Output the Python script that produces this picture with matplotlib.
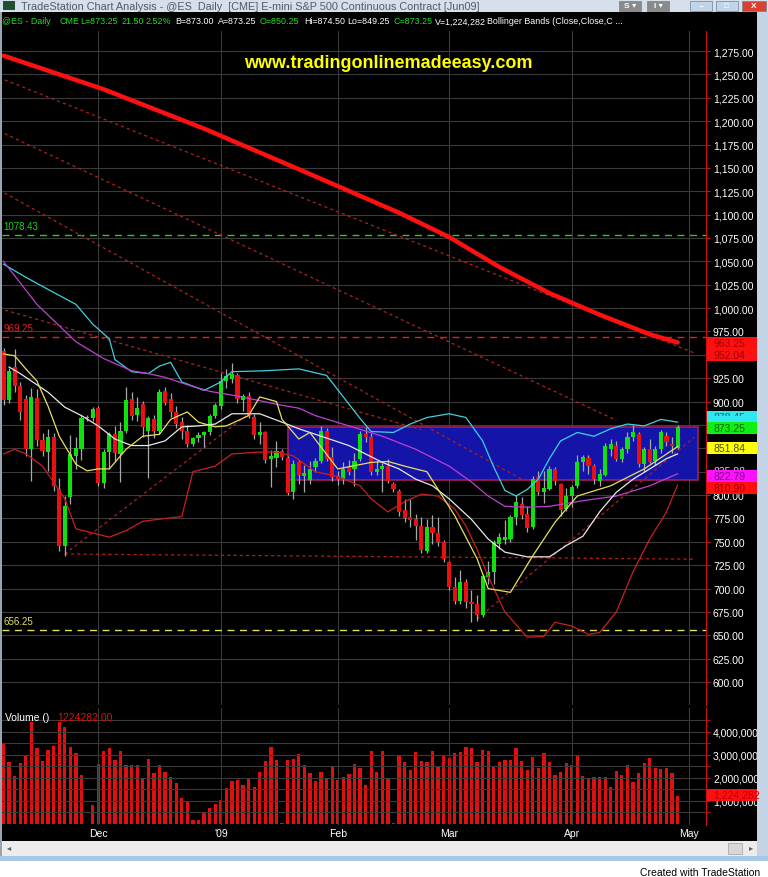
import numpy as np
import pandas as pd
import matplotlib
matplotlib.use("Agg")
import matplotlib.pyplot as plt
from matplotlib.patches import Rectangle

plt.rcParams['font.family'] = ['Liberation Sans', 'DejaVu Sans']

# ES daily sessions, Nov 6 2008 - Apr 29 2009 (holiday sessions Nov 27, Jan 19, Feb 16 kept)
dates = pd.bdate_range("2008-11-06", "2009-04-29")
dates = dates.drop(pd.to_datetime(["2008-12-25", "2009-01-01", "2009-04-10"]))

opens = np.array([954, 902, 937, 917, 903, 849, 904, 859, 846, 862, 807, 746, 798, 842, 849, 882, 883,
                  893, 813, 846, 865, 844, 869, 903, 886, 897, 869, 881, 869, 911, 903, 889, 878, 869, 855,
                  861, 864, 867, 885, 895, 922, 924, 928, 902, 906, 884, 864, 867, 839, 840, 847, 840, 803,
                  835, 820, 816, 830, 836, 869, 841, 820, 817, 830, 828, 839, 865, 862, 825, 828, 831, 812,
                  804, 784, 777, 774, 767, 740, 766, 759, 750, 728, 702, 687, 707, 686, 684, 672, 712, 718,
                  748, 752, 753, 777, 790, 780, 766, 819, 803, 807, 828, 812, 785, 799, 810, 835, 840, 831,
                  815, 822, 849, 853, 839, 849, 862, 865, 833, 849, 836, 849, 863, 855, 850.25])
highs = np.array([957, 936, 956, 921, 907, 915, 914, 866, 871, 866, 818, 799, 864, 862, 886, 886, 894,
                  895, 849, 868, 874, 878, 916, 910, 905, 901, 885, 886, 913, 916, 909, 895, 884, 875, 862,
                  867, 869, 887, 899, 931, 935, 941, 931, 908, 910, 887, 878, 869, 848, 858, 849, 842, 838,
                  838, 832, 837, 840, 874, 872, 851, 826, 835, 838, 845, 869, 873, 866, 836, 834, 839, 814,
                  806, 796, 796, 780, 777, 774, 779, 777, 752, 730, 712, 720, 710, 698, 693, 716, 729, 752,
                  760, 773, 779, 800, 798, 788, 820, 826, 826, 831, 830, 813, 808, 811, 843, 843, 843, 833,
                  828, 856, 860, 858, 851, 867, 875, 867, 851, 860, 852, 870, 868, 862, 874.5])
lows = np.array([896, 898, 910, 880, 842, 815, 853, 842, 826, 804, 740, 735, 790, 828, 838, 879, 879,
                 810, 808, 828, 836, 814, 866, 880, 879, 862, 818, 861, 865, 896, 884, 872, 860, 851, 852,
                 857, 851, 864, 882, 892, 915, 920, 898, 890, 882, 860, 855, 834, 809, 830, 838, 800, 796,
                 812, 803, 812, 825, 834, 836, 815, 811, 812, 822, 810, 836, 857, 822, 821, 803, 813, 803,
                 778, 771, 766, 752, 738, 738, 748, 746, 728, 698, 683, 684, 679, 664, 665, 670, 705, 705,
                 742, 748, 750, 768, 774, 761, 764, 800, 792, 805, 811, 778, 783, 787, 808, 826, 823, 812,
                 810, 820, 842, 836, 835, 845, 858, 830, 825, 834, 832, 845, 852, 845, 849.25])
closes = np.array([902, 933, 917, 889, 849, 905, 859, 847, 862, 810, 746, 788, 844, 850, 882, 884, 892,
                   813, 846, 865, 845, 869, 902, 885, 893, 873, 883, 869, 910, 899, 889, 876, 869, 855, 861,
                   864, 867, 885, 896, 922, 927, 930, 903, 906, 885, 864, 867, 838, 842, 847, 841, 802, 833,
                   821, 824, 828, 836, 869, 839, 819, 817, 828, 825, 836, 865, 862, 825, 828, 831, 815, 806,
                   782, 775, 773, 767, 741, 766, 759, 750, 732, 702, 687, 707, 686, 684, 672, 713, 718, 750,
                   755, 755, 777, 793, 779, 765, 817, 803, 808, 828, 815, 784, 799, 809, 835, 841, 831, 817,
                   823, 853, 855, 839, 849, 862, 867, 833, 849, 835, 849, 867, 857, 852, 873.25])
volume_m = np.array([3.48, 2.68, 2.10, 2.64, 2.97, 4.42, 3.30, 2.75, 3.23, 3.41,
                     4.45, 4.23, 3.36, 3.09, 2.14, 0.02, 0.83, 2.61, 3.19, 3.29,
                     2.80, 3.19, 2.58, 2.58, 2.56, 2.00, 2.83, 2.20, 2.58, 2.27,
                     2.03, 1.77, 1.12, 0.97, 0.19, 0.16, 0.54, 0.71, 0.87, 1.04,
                     1.55, 1.88, 1.93, 1.71, 2.00, 1.60, 2.25, 2.72, 3.33, 2.80,
                     0.05, 2.80, 2.83, 3.04, 2.56, 2.20, 1.88, 2.27, 2.00, 2.46,
                     1.93, 2.03, 2.17, 2.61, 2.42, 1.70, 3.19, 2.25, 3.16, 2.00,
                     0.03, 2.97, 2.68, 2.36, 3.12, 2.72, 2.70, 3.16, 2.49, 3.00,
                     2.86, 3.09, 3.12, 3.33, 3.29, 2.68, 3.23, 3.16, 2.51, 2.68,
                     2.80, 2.80, 3.29, 2.72, 2.36, 2.90, 2.42, 3.09, 2.68, 2.14,
                     2.25, 2.64, 2.56, 2.97, 2.10, 1.99, 2.06, 2.06, 2.06, 1.60,
                     2.32, 2.12, 2.56, 1.84, 2.20, 2.64, 2.87, 2.43, 2.39, 2.43,
                     2.22, 1.224282])

# indicator lines (bar index, price)
ma200_x = [0, 18, 36, 54, 71, 80, 89, 98, 107, 116, 121]
ma200_y = [1270, 1234, 1192, 1146, 1102, 1076, 1044, 1016, 993, 972, 963.25]
bb_up_x = [0, 4, 8, 13, 16, 19, 20, 23, 26, 28, 30, 32, 36, 39, 41, 47, 53, 58, 61, 64, 66, 70, 73, 76,
           80, 83, 86, 88, 90, 92, 94, 96, 98, 100, 103, 106, 109, 112, 115, 118, 121]
bb_up_y = [1047, 1033, 1020, 1004, 983, 967, 945, 932, 930, 938, 942, 921, 912, 921, 932, 933, 935, 928,
           905, 882, 868, 867, 876, 883, 887, 883, 858, 830, 805, 799, 806, 817, 839, 858, 867, 863, 871,
           876, 874, 881, 878]
bb_lo_x = [0, 2, 4, 7, 9, 11, 13, 15, 17, 19, 22, 25, 29, 32, 34, 36, 38, 41, 46, 49, 52, 56, 60, 64,
           66, 69, 72, 75, 78, 81, 83, 85, 87, 90, 94, 97, 99, 102, 105, 107, 110, 113, 116, 119, 121]
bb_lo_y = [844, 849, 844, 831, 814, 796, 764, 761, 758, 755, 762, 772, 775, 777, 825, 828, 831, 844, 846,
           846, 842, 825, 820, 810, 796, 782, 793, 801, 799, 785, 767, 742, 713, 675, 648, 649, 664, 660,
           651, 653, 675, 718, 753, 782, 810.90]
ma_mid_x = [1, 3, 5, 8, 11, 14, 17, 20, 23, 26, 29, 32, 35, 38, 41, 46, 50, 53, 56, 62, 68, 71, 74, 77,
            80, 84, 87, 90, 94, 98, 101, 104, 107, 110, 113, 116, 119, 121]
ma_mid_y = [937, 930, 922, 910, 894, 885, 874, 860, 853, 853, 858, 873, 874, 876, 887, 887, 878, 871,
            865, 853, 835, 828, 817, 810, 796, 774, 753, 739, 734, 734, 746, 756, 782, 803, 817, 828, 839, 844]
ma_fast_x = [0, 2, 4, 6, 8, 10, 13, 15, 17, 19, 22, 25, 28, 30, 33, 35, 38, 40, 44, 46, 49, 50, 53, 55,
             60, 66, 69, 72, 76, 81, 85, 87, 91, 95, 99, 103, 109, 115, 121]
ma_fast_y = [951, 949, 935, 922, 895, 863, 833, 826, 828, 828, 849, 863, 865, 881, 889, 878, 873, 874,
             885, 905, 900, 881, 860, 867, 828, 835, 836, 831, 825, 778, 732, 700, 696, 735, 771, 799,
             810, 828, 851.84]
ma_slow_x = [0, 6, 13, 18, 23, 26, 29, 33, 37, 41, 46, 50, 53, 56, 62, 68, 74, 80, 84, 87, 90, 94, 98, 104,
             110, 116, 121]
ma_slow_y = [1050, 1004, 964, 946, 933, 930, 926, 918, 911, 907, 901, 896, 893, 885, 874, 863, 849, 831, 814,
             799, 788, 787, 788, 794, 799, 810, 822.79]

# drawn trendlines: (start bar, start price, end bar, end price)
trend_down = [(-1, 1247, 124, 952.04), (-1, 1190, 110, 880), (-1, 1127, 93, 817), (-1, 1000, 75, 870)]
trend_up = [(11, 737, 44, 887), (85, 667.5, 124, 862)]
trend_flat = (11, 737, 124, 731.5)
levels = [(1078.43, '#20d020'), (969.25, '#e02020'), (656.25, '#e0e060')]
box_left, box_right, box_top, box_bottom = 51, 124.6, 873, 816

W, H = 768, 878
def fx(px):
    return px / W
def fy(py):
    return 1 - py / H

fig = plt.figure(figsize=(W / 100, H / 100), dpi=100, facecolor='black')

ax = fig.add_axes([fx(2), fy(706), 704 / W, 674 / H])
axv = fig.add_axes([fx(2), fy(826), 704 / W, 117 / H], sharex=ax)

n = len(closes)
idx = np.arange(n)
ax.set_xlim(-0.27, 126.1)
ax.set_ylim(575.5, 1296.4)
axv.set_ylim(-0.045, 5.04)

for a in (ax, axv):
    a.set_facecolor('black')
    for s in ('top', 'left', 'bottom'):
        a.spines[s].set_visible(False)
    a.spines['right'].set_color('#d01010')
    a.yaxis.tick_right()

# month ticks
month_pos = []
month_lab = []
for m, lab in [(12, 'Dec'), (1, "'09"), (2, 'Feb'), (3, 'Mar'), (4, 'Apr')]:
    month_pos.append(int(np.where(dates.month == m)[0][0]))
    month_lab.append(lab)
month_pos.append(n + 1)
month_lab.append('May')

ax.set_yticks(np.arange(600, 1276, 25))
ax.set_yticklabels([f"{v:,.2f}" for v in np.arange(600, 1276, 25)])
ax.set_xticks(month_pos)
ax.tick_params(axis='x', length=0, labelbottom=False)
ax.tick_params(axis='y', colors='#d01010', labelcolor='white', labelsize=7.5, length=3, pad=2)
ax.grid(True, color='#3a3a3a', lw=0.8)

axv.set_yticks([1, 2, 3, 4])
axv.set_yticklabels(['1,000,000', '2,000,000', '3,000,000', '4,000,000'])
axv.set_yticks(np.arange(0.5, 5.0, 1.0), minor=True)
axv.tick_params(axis='y', which='both', colors='#d01010', labelcolor='white', labelsize=7.5, length=3, pad=2)
axv.tick_params(axis='x', colors='#808080', labelcolor='white', labelsize=7.5, length=0, pad=2)
axv.set_xticks(month_pos)
axv.set_xticklabels(month_lab)
axv.grid(True, which='both', color='#3a3a3a', lw=0.8)

# blue zone
ax.add_patch(Rectangle((box_left, box_bottom), box_right - box_left, box_top - box_bottom,
                       facecolor='#1414a8', edgecolor='#a0205a', lw=1.2, zorder=2))

# horizontal levels
for val, col in levels:
    ax.axhline(val, color=col, lw=1.0, ls=(0, (5, 4)), zorder=3)
    ax.text(0.0, val + 4, f"{val:.2f}", color=col, fontsize=7, ha='left', va='bottom', zorder=8)

for (x0, y0, x1, y1) in trend_down + trend_up + [trend_flat]:
    ax.plot([x0, x1], [y0, y1], color='#b02020', lw=0.9, ls=(0, (2.5, 2.5)), zorder=3)

# candles
up = closes >= opens
body_lo = np.minimum(opens, closes)
body_h = np.maximum(np.abs(closes - opens), 1.0)
ax.vlines(idx, lows, highs, color='#a8a8a8', lw=0.9, zorder=4)
ax.bar(idx, body_h, bottom=body_lo, width=0.74,
       color=np.where(up, '#10e010', '#e81010'), linewidth=0, zorder=5)

# indicators
ax.plot(ma200_x, ma200_y, color='#ff1010', lw=3.2, zorder=6, solid_capstyle='round')
ax.plot(bb_up_x, bb_up_y, color='#40d0e0', lw=0.9, zorder=6)
ax.plot(bb_lo_x, bb_lo_y, color='#c82020', lw=0.9, zorder=6)
ax.plot(ma_slow_x, ma_slow_y, color='#c040d0', lw=0.9, zorder=6)
ax.plot(ma_mid_x, ma_mid_y, color='#e8e8e8', lw=0.9, zorder=6)
ax.plot(ma_fast_x, ma_fast_y, color='#e8e060', lw=0.9, zorder=6)

# volume
axv.bar(idx, volume_m, width=0.58, color='#e01010', linewidth=0)
axv.text(0.004, 0.97, 'Volume ()', transform=axv.transAxes, color='white', fontsize=7.5, va='top')
axv.text(0.078, 0.97, f"{volume_m[-1] * 1e6:.2f}", transform=axv.transAxes, color='#e01010',
         fontsize=7.5, va='top')

# right-axis value flags (pixel rows as stacked on the chart)
flags = [(338, '963.25', '#ff1010', '#a00000'), (350, '952.04', '#ff1010', '#a00000'),
         (412, '878.45', '#30e8f0', '#006060'), (423, '873.25', '#10f010', '#006000'),
         (443, '851.84', '#ffff10', '#505000'), (466, '835.98', '#000000', '#d0d0d0'),
         (471, '822.79', '#ff10ff', '#800080'), (483, '810.90', '#ff1010', '#a00000'),
         (790, f"{volume_m[-1] * 1e6:,.0f}", '#ff1010', '#c00000')]
for k, (top, txt, bg, fg) in enumerate(flags):
    fig.patches.append(Rectangle((fx(707), fy(top + 12)), 50 / W, 12 / H, transform=fig.transFigure,
                                 facecolor=bg, edgecolor='none', zorder=5 + k))
    t = fig.text(fx(713), fy(top + 6), txt, color=fg, fontsize=7.5, va='center', ha='left', zorder=5.5 + k)
    if txt in ('878.45', '835.98'):
        clip = Rectangle((fx(707), fy(top + 5)), 50 / W, 5 / H, transform=fig.transFigure)
        t.set_clip_path(clip)

ax.text(fx(388), fy(63), 'www.tradingonlinemadeeasy.com', transform=fig.transFigure, color='#ffff00',
        fontsize=13, fontweight='bold', ha='center', va='center', zorder=10)

# window chrome
fig.patches.append(Rectangle((0, fy(13)), 1, 13 / H, transform=fig.transFigure, facecolor='#d6e0ec',
                             edgecolor='none', zorder=0))
fig.patches.append(Rectangle((fx(3), fy(11)), 12 / W, 9 / H, transform=fig.transFigure, facecolor='#205030',
                             edgecolor='none'))
fig.text(fx(21), fy(7), 'TradeStation Chart Analysis - @ES  Daily  [CME] E-mini S&P 500 Continuous Contract [Jun09]',
         color='#505a68', fontsize=7.8, va='center')
for x0, w, col, lab in [(619, 22, '#8a8a8a', 'S ▾'), (647, 22, '#8a8a8a', 'I ▾'), (690, 22, '#c0d4ea', '–'),
                        (716, 22, '#c0d4ea', '□'), (742, 24, '#d84030', 'X')]:
    fig.patches.append(Rectangle((fx(x0), fy(12)), w / W, 10 / H, transform=fig.transFigure,
                                 facecolor=col, edgecolor='#708090', lw=0.5))
    fig.text(fx(x0 + w / 2), fy(7), lab, color='white', fontsize=6, ha='center', va='center', fontweight='bold')
fig.patches.append(Rectangle((fx(757), fy(858)), 11 / W, 845 / H, transform=fig.transFigure,
                             facecolor='#c4d4e6', edgecolor='none'))
fig.patches.append(Rectangle((0, fy(858)), 2 / W, 845 / H, transform=fig.transFigure,
                             facecolor='#9aa4b0', edgecolor='none'))
fig.patches.append(Rectangle((fx(2), fy(857)), 755 / W, 15 / H, transform=fig.transFigure,
                             facecolor='#ececec', edgecolor='none'))
fig.patches.append(Rectangle((fx(728), fy(855)), 14 / W, 11 / H, transform=fig.transFigure,
                             facecolor='#d8d8d8', edgecolor='#a0a0a0', lw=0.5))
fig.text(fx(9), fy(849), '◂', color='#606060', fontsize=6, ha='center', va='center')
fig.text(fx(751), fy(849), '▸', color='#606060', fontsize=6, ha='center', va='center')
fig.patches.append(Rectangle((0, fy(862)), 1, 5 / H, transform=fig.transFigure,
                             facecolor='#a8c8e8', edgecolor='none'))
fig.patches.append(Rectangle((0, 0), 1, fy(862), transform=fig.transFigure,
                             facecolor='white', edgecolor='none'))
fig.text(fx(760), fy(873), 'Created with TradeStation', color='black', fontsize=7.5, ha='right', va='center')

# status line
status = [(2, '@ES - Daily', '#20e020'), (59, 'CME', '#20e020'), (80, 'L=873.25', '#20e020'),
          (122, '21.50', '#20e020'), (146, '2.52%', '#20e020'), (175, 'B=873.00', 'white'),
          (218, 'A=873.25', 'white'), (260, 'O=850.25', '#20e020'), (304, 'Hi=874.50', 'white'),
          (347, 'Lo=849.25', 'white'), (393, 'C=873.25', '#20e020'), (435, 'V=1,224,282', 'white'),
          (487, 'Bollinger Bands (Close,Close,C ...', 'white')]
for x0, txt, col in status:
    fig.text(fx(x0), fy(22), txt, color=col, fontsize=6.4, va='center')

fig.savefig('out.png', dpi=100, facecolor='black')
